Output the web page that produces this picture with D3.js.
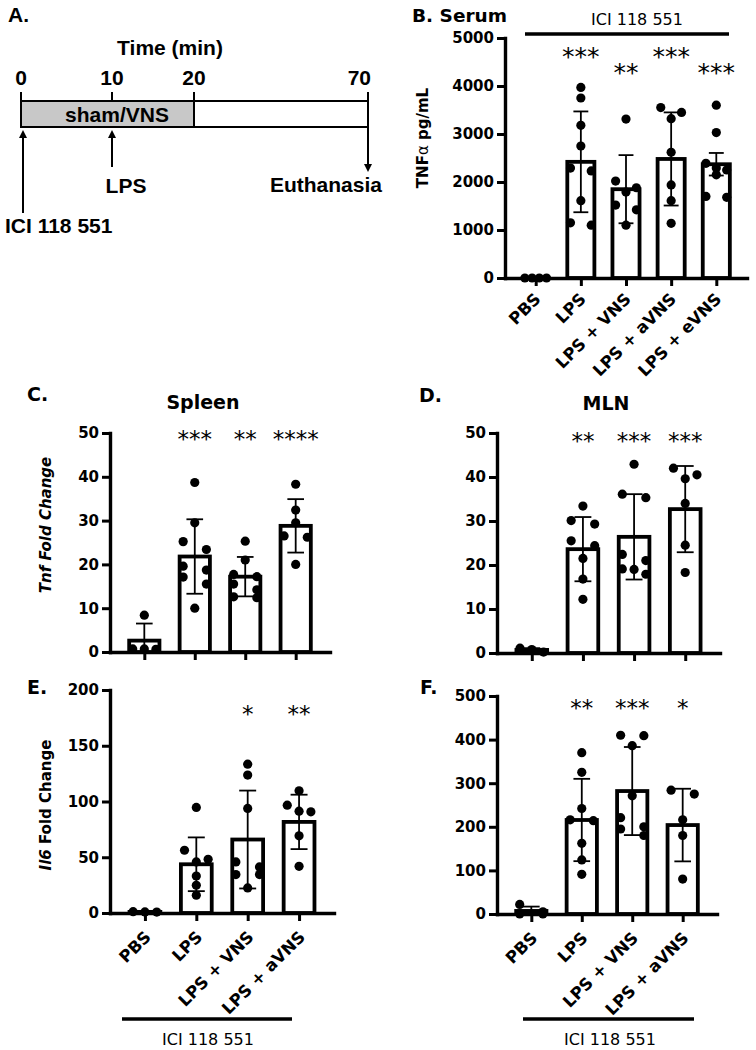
<!DOCTYPE html>
<html><head><meta charset="utf-8">
<script src="https://cdn.jsdelivr.net/npm/d3@7/dist/d3.min.js"></script>
<style>body{margin:0;background:#fff}</style>
</head><body>
<svg id="chart" width="756" height="1050"></svg>
<script>
// ================= DATA =================
// Panel A: timeline
const timeTicks = [0, 10, 20, 70];
const stimWindow = [0, 20];
const stimLabel = "sham/VNS";
const eventLabels = ["ICI 118 551", "LPS", "Euthanasia"];
const eventTimes = [0, 10, 70];

// Panel B: serum TNFα (pg/mL)
const serumCats = ["PBS", "LPS", "LPS + VNS", "LPS + aVNS", "LPS + eVNS"];
const serumMean = [0, 2420, 1850, 2480, 2370];
const serumSD = [0, 1050, 710, 970, 235];
const serumPoints = [
  [0, 0, 0, 0],
  [3970, 3750, 3180, 2750, 2290, 2230, 1610, 1150, 1100],
  [3310, 2020, 1880, 1790, 1520, 1420, 1100],
  [3550, 3450, 3320, 2620, 1940, 1610, 1140],
  [3600, 3030, 2390, 2290, 2250, 2150, 1700, 1680]
];
const serumStars = ["", "***", "**", "***", "***"];
const serumTicks = [0, 1000, 2000, 3000, 4000, 5000];

// Panels C-F: tissue
const tissueCats = ["PBS", "LPS", "LPS + VNS", "LPS + aVNS"];

const spleenTnfMean = [2.6, 21.8, 17.2, 28.8];
const spleenTnfSD = [3.9, 8.5, 4.5, 6.1];
const spleenTnfPoints = [
  [8.4, 0.7, 0.7, 0.6],
  [38.7, 29.5, 25.2, 23.4, 19.6, 18.7, 17.1, 15.5, 10.0],
  [25.3, 21.0, 17.7, 17.2, 15.5, 14.2, 12.6, 12.4],
  [38.3, 32.4, 29.5, 26.5, 26.2, 20.0]
];
const spleenTnfStars = ["", "***", "**", "****"];

const mlnTnfMean = [0.7, 23.6, 26.4, 32.7];
const mlnTnfSD = [0.4, 7.3, 9.7, 9.8];
const mlnTnfPoints = [
  [0.2, 1.1, 0.8],
  [33.4, 30.1, 29.3, 25.5, 24.4, 21.5, 16.8, 12.2],
  [42.9, 36.1, 35.3, 22.4, 21.0, 19.1, 19.0, 17.9],
  [42.0, 40.5, 39.6, 34.0, 24.5, 18.3]
];
const mlnTnfStars = ["", "**", "***", "***"];
const tnfTicks = [0, 10, 20, 30, 40, 50];

const spleenIl6Mean = [1.0, 43.7, 65.9, 81.7];
const spleenIl6SD = [0, 24.1, 43.9, 24.4];
const spleenIl6Points = [
  [0.8, 1.2, 1.0],
  [94.7, 56.3, 48.2, 45.8, 33.2, 24.9, 15.9],
  [133.5, 123.7, 93.8, 45.8, 41.3, 34.5, 34.5, 22.5],
  [109.6, 96.7, 91.3, 90.7, 69.2, 41.9]
];
const spleenIl6Stars = ["", "", "*", "**"];
const spleenIl6Ticks = [0, 50, 100, 150, 200];

const mlnIl6Mean = [7, 215.6, 282, 204];
const mlnIl6SD = [10, 94.4, 101, 83.3];
const mlnIl6Points = [
  [0, 5, 22, 0],
  [370, 325, 242, 216, 214, 162, 124, 91],
  [410, 409, 386, 271, 221, 200, 195, 180],
  [284, 275, 216, 180, 80]
];
const mlnIl6Stars = ["", "**", "***", "*"];
const mlnIl6Ticks = [0, 100, 200, 300, 400, 500];

const drugLabel = "ICI 118 551";

// ================= DRAWING =================
const svg = d3.select("#chart");
const FONT = "'DejaVu Sans', sans-serif";
const FONT_A = "'Liberation Sans', Arial, sans-serif";

function txt(x, y, s, o = {}) {
  return svg.append("text").attr("x", x).attr("y", y).text(s)
    .attr("font-family", o.family || FONT)
    .attr("font-size", o.size || 15)
    .attr("font-weight", o.weight || "bold")
    .attr("font-style", o.style || "normal")
    .attr("text-anchor", o.anchor || "start")
    .attr("fill", "#000");
}

// ---------- Panel A ----------
(function () {
  const tx = d3.scaleLinear().domain(timeTicks).range([21, 112, 194, 368]);
  const g = svg.append("g");
  const top = 101, bot = 127;
  txt(8, 22, "A.", { family: FONT_A, size: 21 });
  txt(170, 55, "Time (min)", { family: FONT_A, size: 21, anchor: "middle" });
  g.append("rect").attr("x", tx(0)).attr("y", top).attr("width", tx(70) - tx(0)).attr("height", bot - top)
    .attr("fill", "#fff").attr("stroke", "#000").attr("stroke-width", 2);
  g.append("rect").attr("x", tx(stimWindow[0])).attr("y", top).attr("width", tx(stimWindow[1]) - tx(stimWindow[0])).attr("height", bot - top)
    .attr("fill", "#c8c8c8").attr("stroke", "#000").attr("stroke-width", 2);
  timeTicks.forEach((t, i) => {
    g.append("line").attr("x1", tx(t)).attr("x2", tx(t)).attr("y1", 92).attr("y2", top)
      .attr("stroke", "#000").attr("stroke-width", 2);
    const last = i === timeTicks.length - 1;
    txt(last ? tx(t) + 3 : tx(t), 85, String(t), { family: FONT_A, size: 21, anchor: last ? "end" : "middle" });
  });
  txt(117, 122, stimLabel, { family: FONT_A, size: 21, anchor: "middle" });

  function arrowUp(x, y1, y2) {
    g.append("line").attr("x1", x).attr("x2", x).attr("y1", y2).attr("y2", y1 + 6).attr("stroke", "#000").attr("stroke-width", 2);
    g.append("path").attr("d", `M${x},${y1} L${x - 4},${y1 + 8} L${x + 4},${y1 + 8} Z`).attr("fill", "#000");
  }
  function arrowDown(x, y1, y2) {
    g.append("line").attr("x1", x).attr("x2", x).attr("y1", y1).attr("y2", y2 - 6).attr("stroke", "#000").attr("stroke-width", 2);
    g.append("path").attr("d", `M${x},${y2} L${x - 4},${y2 - 8} L${x + 4},${y2 - 8} Z`).attr("fill", "#000");
  }
  arrowUp(tx(eventTimes[0]) + 2, 130, 213);
  arrowUp(tx(eventTimes[1]), 130, 167);
  arrowDown(tx(eventTimes[2]), 128, 172);
  txt(5, 233, eventLabels[0], { family: FONT_A, size: 21 });
  txt(126, 193, eventLabels[1], { family: FONT_A, size: 21, anchor: "middle" });
  txt(tx(eventTimes[2]) + 14, 192, eventLabels[2], { family: FONT_A, size: 21, anchor: "end" });
})();

// ---------- swarm layout ----------
function swarm(vals, y, cx, d, maxSpread, r) {
  const sorted = vals.map(v => ({ v, py: y(v) })).sort((a, b) => a.py - b.py);
  const rows = [];
  sorted.forEach(p => {
    const row = rows[rows.length - 1];
    if (row && p.py - row[0].py < 2 * r) row.push(p); else rows.push([p]);
  });
  const out = [];
  rows.forEach(row => {
    const k = row.length;
    let offs;
    if (k === 1) offs = [0];
    else if (k === 2) offs = [-d, d];
    else offs = row.map((_, i) => (i - (k - 1) / 2) * d);
    const span = offs[k - 1] - offs[0];
    const s = span > maxSpread ? maxSpread / span : 1;
    row.forEach((p, i) => out.push({ x: cx + offs[i] * s, y: p.py }));
  });
  return out;
}

// ---------- bar panel ----------
function barPanel(o) {
  const g = svg.append("g");
  const y = d3.scaleLinear().domain([0, o.yMax]).range(o.yRange);
  const x = d3.scalePoint().domain(o.cats).range(o.xRange).padding(0.68);
  const step = x.step();
  const bw = step * 0.6;
  const capW = step * 0.33;
  const r = 4.6;

  // bars
  o.cats.forEach((c, i) => {
    const cx = x(c);
    g.append("rect").attr("x", cx - bw / 2).attr("y", y(o.mean[i]))
      .attr("width", bw).attr("height", Math.max(0, y(0) - y(o.mean[i])))
      .attr("fill", "#fff").attr("stroke", "#000").attr("stroke-width", 3.8);
  });
  // error bars
  o.cats.forEach((c, i) => {
    if (!o.sd[i]) return;
    const cx = x(c);
    const hi = y(o.mean[i] + o.sd[i]), lo = y(Math.max(0, o.mean[i] - o.sd[i]));
    g.append("line").attr("x1", cx).attr("x2", cx).attr("y1", hi).attr("y2", lo).attr("stroke", "#000").attr("stroke-width", 1.8);
    [hi, lo].forEach(yy => g.append("line").attr("x1", cx - capW / 2).attr("x2", cx + capW / 2)
      .attr("y1", yy).attr("y2", yy).attr("stroke", "#000").attr("stroke-width", 1.8));
  });
  // axes
  const ya = g.append("g").attr("transform", `translate(${o.xRange[0]},0)`)
    .call(d3.axisLeft(y).tickValues(o.ticks).tickSize(8).tickPadding(3).tickSizeOuter(0).tickFormat(d3.format("d")));
  const xa = g.append("g").attr("transform", `translate(0,${o.yRange[0]})`)
    .call(d3.axisBottom(x).tickSize(8).tickSizeOuter(0).tickFormat(""));
  [ya, xa].forEach(a => {
    a.select(".domain").attr("stroke-width", 3.4).attr("stroke-linecap", "square");
    a.selectAll(".tick line").attr("stroke-width", 3);
  });
  ya.selectAll(".tick text").attr("font-family", FONT).attr("font-size", 15).attr("font-weight", "bold").attr("fill", "#000");
  // points
  o.cats.forEach((c, i) => {
    const pts = swarm(o.pts[i], y, x(c), step * 0.23, bw * 0.8, r);
    g.selectAll(null).data(pts).join("circle")
      .attr("cx", d => d.x).attr("cy", d => d.y).attr("r", r).attr("fill", "#000");
  });
  // stars
  o.cats.forEach((c, i) => {
    if (!o.stars[i]) return;
    const sy = o.starY2 !== undefined && i % 2 === 0 ? o.starY2 : o.starY;
    txt(x(c), sy + o.starSize * 0.6, o.stars[i], { size: o.starSize, weight: "normal", anchor: "middle" });
  });
  // category labels
  if (o.labels) {
    o.cats.forEach(c => {
      g.append("text").text(c)
        .attr("transform", `translate(${x(c) + o.labelDx},${o.yRange[0] + o.labelDy}) rotate(-45)`)
        .attr("text-anchor", "end").attr("font-family", FONT).attr("font-size", 16.5).attr("font-weight", "bold");
    });
  }
  return { x, y };
}

// ---------- Panel B ----------
txt(412, 22, "B. Serum", { size: 18.5 });
txt(637, 25, drugLabel, { size: 16, weight: "normal", anchor: "middle" });
svg.append("line").attr("x1", 525).attr("x2", 729).attr("y1", 34).attr("y2", 34).attr("stroke", "#000").attr("stroke-width", 3.5);
barPanel({
  cats: serumCats, mean: serumMean, sd: serumSD, pts: serumPoints, stars: serumStars,
  ticks: serumTicks, yMax: 5000, yRange: [278, 38], xRange: [505, 747],
  starY: 50, starY2: 65.5, starSize: 25, labels: true, labelDx: 6, labelDy: 22
});
(function () {
  const t = svg.append("text").attr("transform", "translate(428,138) rotate(-90)")
    .attr("text-anchor", "middle").attr("font-family", FONT).attr("font-size", 15).attr("font-weight", "bold");
  t.append("tspan").text("TNF");
  t.append("tspan").text("α").attr("font-weight", "normal");
  t.append("tspan").text(" pg/mL");
})();

// ---------- Panel C ----------
txt(27, 401, "C.", { size: 19 });
txt(203, 409, "Spleen", { size: 19, anchor: "middle" });
barPanel({
  cats: tissueCats, mean: spleenTnfMean, sd: spleenTnfSD, pts: spleenTnfPoints, stars: spleenTnfStars,
  ticks: tnfTicks, yMax: 50, yRange: [652, 433], xRange: [110, 330],
  starY: 433, starSize: 23, labels: false
});
(function () {
  const t = svg.append("text").attr("transform", "translate(51,525) rotate(-90)")
    .attr("text-anchor", "middle").attr("font-family", FONT).attr("font-size", 15).attr("font-weight", "bold").attr("font-style", "italic");
  t.text("Tnf Fold Change");
})();

// ---------- Panel D ----------
txt(419, 402, "D.", { size: 19 });
txt(606, 410, "MLN", { size: 19, anchor: "middle" });
barPanel({
  cats: tissueCats, mean: mlnTnfMean, sd: mlnTnfSD, pts: mlnTnfPoints, stars: mlnTnfStars,
  ticks: tnfTicks, yMax: 50, yRange: [653, 433], xRange: [497, 720],
  starY: 435, starSize: 23, labels: false
});

// ---------- Panel E ----------
txt(27, 694, "E.", { size: 19 });
barPanel({
  cats: tissueCats, mean: spleenIl6Mean, sd: spleenIl6SD, pts: spleenIl6Points, stars: spleenIl6Stars,
  ticks: spleenIl6Ticks, yMax: 200, yRange: [913, 690], xRange: [110, 334],
  starY: 708, starSize: 23, labels: true, labelDx: 7, labelDy: 25
});
(function () {
  const t = svg.append("text").attr("transform", "translate(51,805) rotate(-90)")
    .attr("text-anchor", "middle").attr("font-family", FONT).attr("font-size", 15).attr("font-weight", "bold");
  t.append("tspan").text("Il6").attr("font-style", "italic");
  t.append("tspan").text(" Fold Change");
})();
svg.append("line").attr("x1", 122).attr("x2", 292).attr("y1", 1019).attr("y2", 1019).attr("stroke", "#000").attr("stroke-width", 3.5);
txt(208, 1045, drugLabel, { size: 16, weight: "normal", anchor: "middle" });

// ---------- Panel F ----------
txt(420, 694, "F.", { size: 19 });
barPanel({
  cats: tissueCats, mean: mlnIl6Mean, sd: mlnIl6SD, pts: mlnIl6Points, stars: mlnIl6Stars,
  ticks: mlnIl6Ticks, yMax: 500, yRange: [914, 696], xRange: [497, 717],
  starY: 702, starSize: 23, labels: true, labelDx: 7, labelDy: 25
});
svg.append("line").attr("x1", 523).attr("x2", 694).attr("y1", 1019).attr("y2", 1019).attr("stroke", "#000").attr("stroke-width", 3.5);
txt(610, 1045, drugLabel, { size: 16, weight: "normal", anchor: "middle" });
</script>
</body></html>
